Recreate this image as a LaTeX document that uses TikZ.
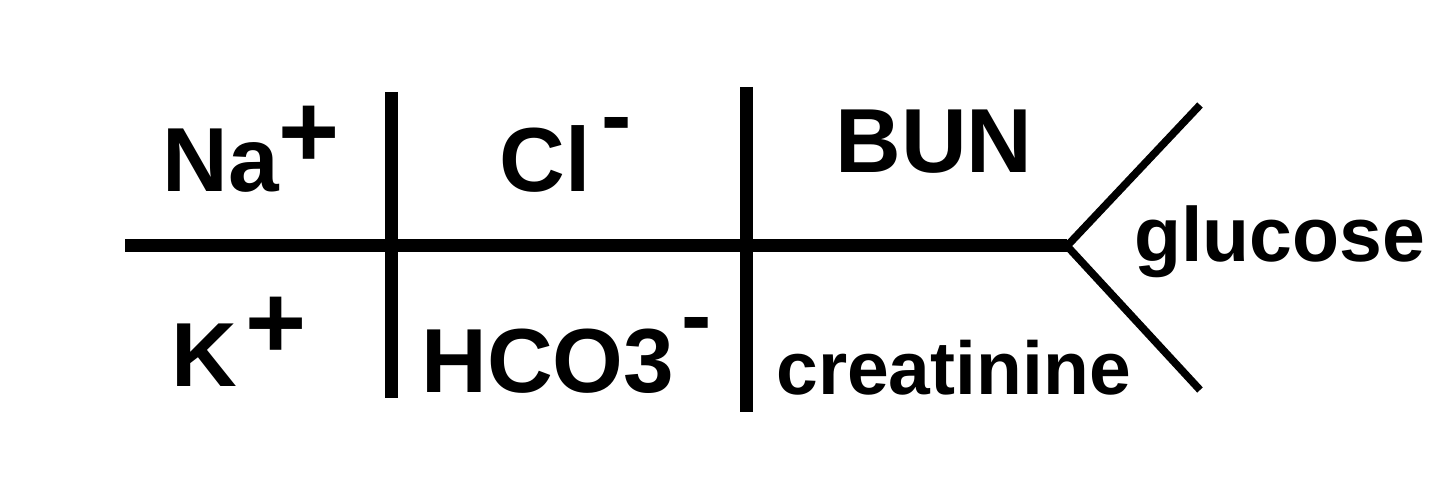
\documentclass[tikz,border=0pt]{standalone}
\usepackage{fontspec}
\setmainfont{Liberation Sans}
\begin{document}
\begin{tikzpicture}[x=0.5pt,y=-0.5pt,
  bigl/.style={inner sep=0pt,anchor=base west,font=\fontsize{45.5}{50}\selectfont\bfseries},
  smalll/.style={inner sep=0pt,anchor=base west,font=\fontsize{38.5}{44}\selectfont\bfseries},
  crealabel/.style={inner sep=0pt,anchor=base west,font=\fontsize{37.5}{44}\selectfont\bfseries},
  thickline/.style={line width=6.5pt},
  forkline/.style={line width=3.8pt}]
\useasboundingbox (0,0) rectangle (1440,480);
% skeleton coordinates
\coordinate (left) at (125,246);
\coordinate (tip) at (1067,246);
\coordinate (fup) at (1200,105);
\coordinate (fdown) at (1200,390);
\coordinate (v1top) at (391,92);
\coordinate (v1bot) at (391,398);
\coordinate (v2top) at (746,87);
\coordinate (v2bot) at (746,412);
% lines
\draw[thickline] (left) -- (tip);
\draw[thickline] (v1top) -- (v1bot);
\draw[thickline] (v2top) -- (v2bot);
\draw[forkline,line join=miter] (fup) -- (tip) -- (fdown);
% labels
\node[bigl] (na) at (162,192) {Na\raisebox{12pt}{\scalebox{1.15}{+}}};
\node[bigl] (cl) at (499,192) {Cl\kern5.5pt\raisebox{22.75pt}{-}};
\node[bigl] (bun) at (835,173) {BUN};
\node[bigl] (k) at (171,387) {K\kern4pt\raisebox{14pt}{\scalebox{1.15}{+}}};
\node[bigl] (hco) at (421,393) {HCO3\kern3.5pt\raisebox{23pt}{-}};
\node[crealabel] (crea) at (776,394) {creatinine};
\node[smalll] (glu) at (1134,262) {glucose};
\end{tikzpicture}
\end{document}
